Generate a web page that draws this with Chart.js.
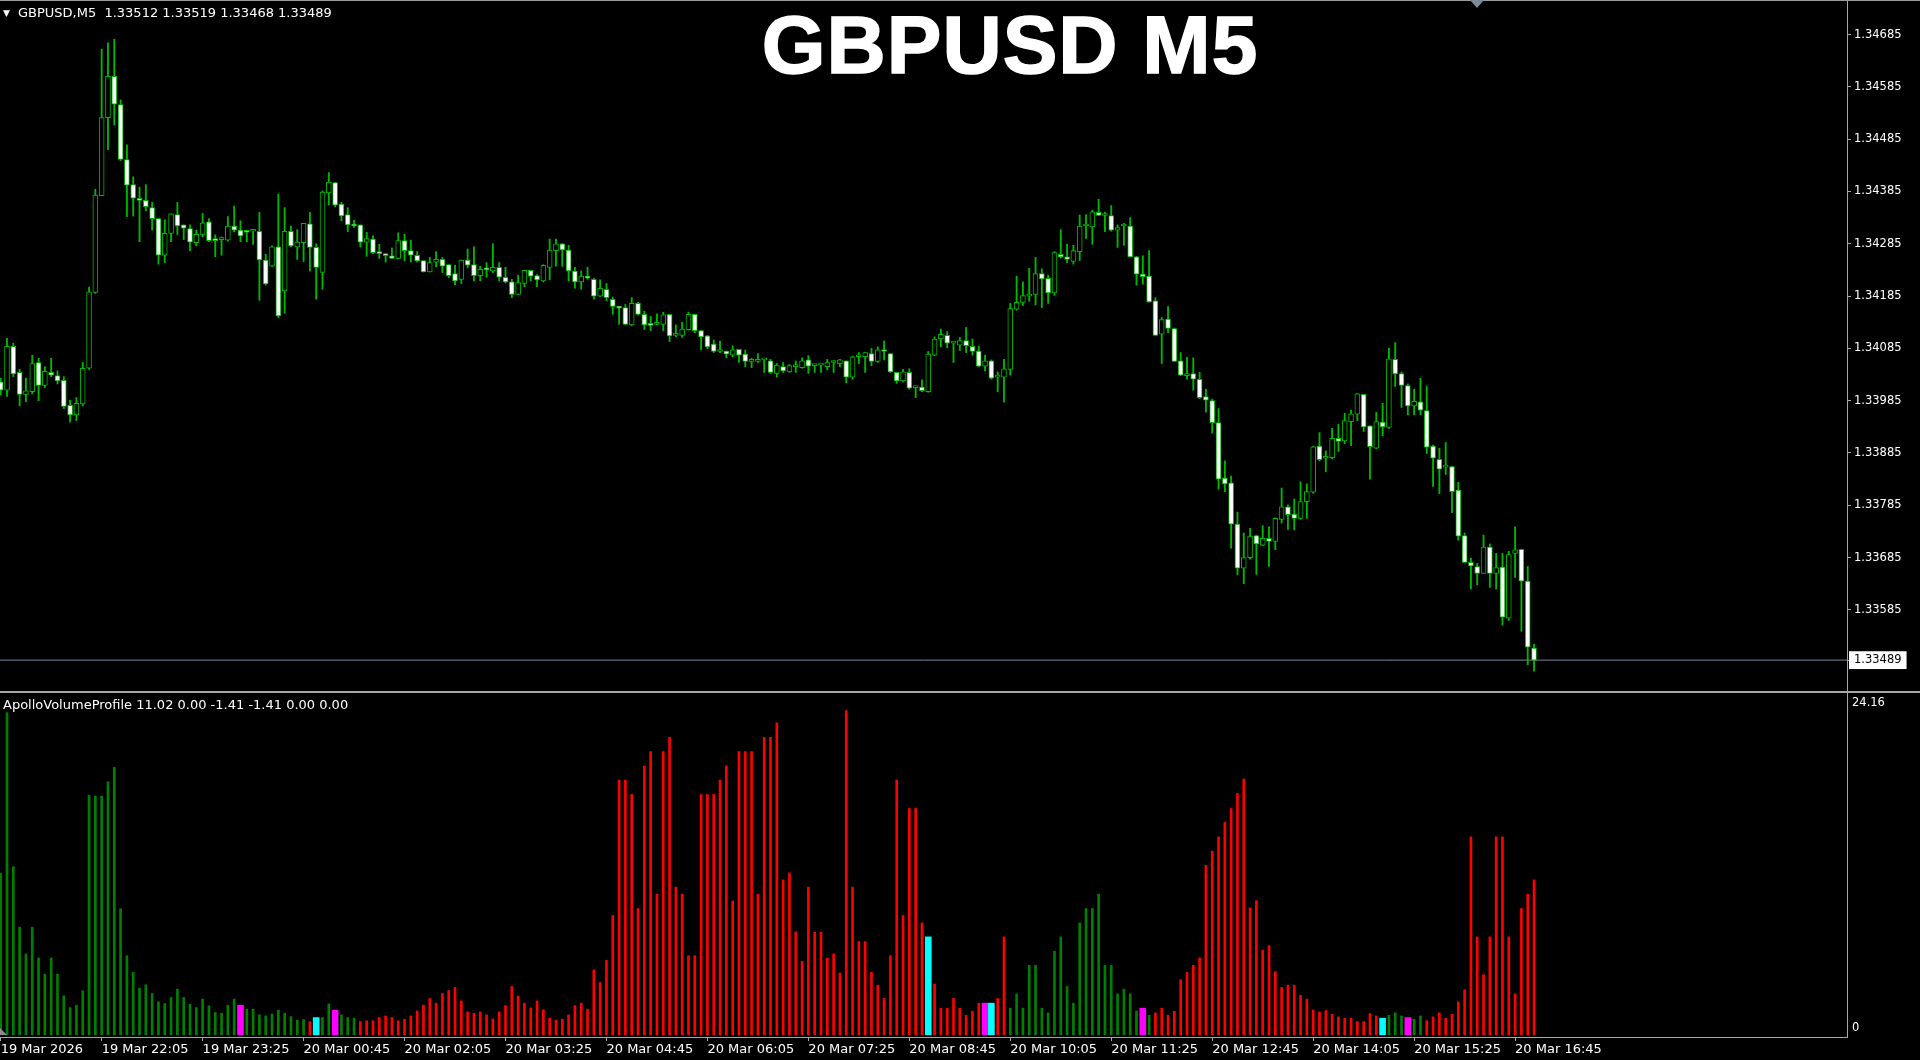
<!DOCTYPE html>
<html lang="en">
<head>
<meta charset="UTF-8">
<title>GBPUSD M5</title>
<script src="https://cdn.jsdelivr.net/npm/chart.js"></script>
<style>
  html, body { margin: 0; padding: 0; background: #000; }
  body { width: 1920px; height: 1060px; position: relative; overflow: hidden; font-family: "DejaVu Sans", sans-serif; }
  #priceBox { position: absolute; left: 0; top: 0; width: 1920px; height: 691px; }
  #volBox { position: absolute; left: 0; top: 693px; width: 1920px; height: 367px; }
  .topline { position: absolute; left: 0; top: 0; width: 1920px; height: 1px; background: #9a9a9a; }
  .sep { position: absolute; left: 0; top: 691px; width: 1920px; height: 2px; background: #a8a8a8; }
  .header { position: absolute; left: 3px; top: 5px; color: #fff; font-size: 13px; white-space: pre; }
  .header .tri { font-size: 9px; position: relative; top: -1px; margin-right: 8px; }
  .volheader { position: absolute; left: 3px; top: 697px; color: #fff; font-size: 13px; white-space: pre; }
  .title { position: absolute; left: 760px; top: 4px; width: 500px; text-align: center; color: #fff;
           font-family: "Liberation Sans", Arial, sans-serif; font-weight: bold; font-size: 82px; line-height: 82px; letter-spacing: 1px;
           -webkit-text-stroke: 1.5px #fff; }
  .shift { position: absolute; left: 1470px; top: 0; width: 0; height: 0;
           border-left: 7px solid transparent; border-right: 7px solid transparent; border-top: 8px solid #7c8a98; }
  .scroll { position: absolute; left: 0; top: 1028px; width: 0; height: 0;
            border-bottom: 7px solid #8c8c8c; border-right: 7px solid transparent; }
</style>
</head>
<body>
<div id="priceBox"><canvas id="priceChart"></canvas></div>
<div id="volBox"><canvas id="volChart"></canvas></div>
<div class="topline"></div>
<div class="sep"></div>
<div class="shift"></div>
<div class="scroll"></div>
<div class="header"><span class="tri">&#9660;</span>GBPUSD,M5  1.33512 1.33519 1.33468 1.33489</div>
<div class="volheader">ApolloVolumeProfile 11.02 0.00 -1.41 -1.41 0.00 0.00</div>
<div class="title">GBPUSD M5</div>

<script>
// M5 candles, 19 Mar 20:45 -> 20 Mar 17:00
const open = [
  1.34021,1.34005,1.34089,1.34039,1.33997,1.34002,1.34058,1.34014,1.34039,1.34033,
  1.34024,1.33976,1.33958,1.33979,1.34047,1.34192,1.34377,1.34526,1.34605,1.34551,
  1.34446,1.34398,1.34372,1.34368,1.34354,1.34333,1.34263,1.34305,1.34341,1.34321,
  1.34314,1.34287,1.34303,1.34327,1.34292,1.34293,1.34292,1.34319,1.34311,1.34308,
  1.34309,1.34309,1.34254,1.34242,1.34279,1.34195,1.34309,1.34279,1.34287,1.34323,
  1.34278,1.34230,1.34382,1.34402,1.34361,1.34341,1.34320,1.34321,1.34288,1.34294,
  1.34267,1.34266,1.34262,1.34257,1.34291,1.34272,1.34263,1.34253,1.34231,1.34250,
  1.34255,1.34245,1.34228,1.34217,1.34254,1.34245,1.34224,1.34236,1.34233,1.34240,
  1.34221,1.34212,1.34188,1.34209,1.34234,1.34224,1.34214,1.34240,1.34272,1.34285,
  1.34273,1.34233,1.34212,1.34223,1.34217,1.34185,1.34198,1.34179,1.34163,1.34163,
  1.34130,1.34171,1.34150,1.34130,1.34131,1.34131,1.34150,1.34110,1.34110,1.34121,
  1.34150,1.34119,1.34109,1.34093,1.34079,1.34080,1.34072,1.34083,1.34074,1.34060,
  1.34060,1.34063,1.34061,1.34037,1.34050,1.34040,1.34050,1.34048,1.34063,1.34052,
  1.34053,1.34050,1.34058,1.34056,1.34061,1.34030,1.34069,1.34069,1.34075,1.34060,
  1.34082,1.34075,1.34039,1.34023,1.34039,1.34010,1.34011,1.34002,1.34072,1.34103,
  1.34110,1.34095,1.34091,1.34100,1.34089,1.34080,1.34051,1.34061,1.34030,1.34030,
  1.34045,1.34160,1.34173,1.34185,1.34188,1.34228,1.34219,1.34191,1.34265,1.34260,
  1.34251,1.34270,1.34319,1.34317,1.34345,1.34339,1.34339,1.34311,1.34319,1.34319,
  1.34260,1.34227,1.34223,1.34176,1.34112,1.34141,1.34123,1.34061,1.34033,1.34037,
  1.34026,1.33993,1.33985,1.33943,1.33837,1.33828,1.33749,1.33665,1.33685,1.33727,
  1.33709,1.33722,1.33716,1.33758,1.33782,1.33768,1.33760,1.33792,1.33810,1.33898,
  1.33875,1.33876,1.33913,1.33908,1.33945,1.33959,1.33997,1.33937,1.33894,1.33944,
  1.33934,1.34064,1.34037,1.34014,1.33975,1.33983,1.33966,1.33898,1.33873,1.33858,
  1.33859,1.33814,1.33727,1.33676,1.33668,1.33655,1.33705,1.33655,1.33667,1.33569,
  1.33693,1.33701,1.33640,1.33512
];
const high = [
  1.34028,1.34104,1.34095,1.34045,1.34028,1.34072,1.34066,1.34050,1.34066,1.34042,
  1.34031,1.33986,1.33991,1.34058,1.34202,1.34389,1.34657,1.34669,1.34676,1.34560,
  1.34474,1.34413,1.34393,1.34398,1.34364,1.34333,1.34331,1.34342,1.34364,1.34321,
  1.34321,1.34311,1.34343,1.34333,1.34302,1.34298,1.34337,1.34357,1.34329,1.34309,
  1.34310,1.34345,1.34265,1.34281,1.34380,1.34354,1.34319,1.34312,1.34324,1.34345,
  1.34285,1.34386,1.34421,1.34402,1.34364,1.34354,1.34330,1.34321,1.34307,1.34300,
  1.34284,1.34266,1.34277,1.34306,1.34303,1.34292,1.34270,1.34253,1.34259,1.34270,
  1.34259,1.34245,1.34244,1.34254,1.34275,1.34279,1.34242,1.34249,1.34285,1.34249,
  1.34240,1.34217,1.34225,1.34234,1.34234,1.34226,1.34245,1.34294,1.34294,1.34285,
  1.34282,1.34240,1.34233,1.34240,1.34219,1.34216,1.34209,1.34183,1.34165,1.34169,
  1.34182,1.34173,1.34156,1.34146,1.34151,1.34154,1.34150,1.34130,1.34135,1.34154,
  1.34150,1.34119,1.34110,1.34101,1.34099,1.34080,1.34090,1.34083,1.34082,1.34066,
  1.34075,1.34064,1.34064,1.34056,1.34058,1.34054,1.34061,1.34067,1.34071,1.34054,
  1.34053,1.34064,1.34061,1.34064,1.34061,1.34070,1.34077,1.34077,1.34085,1.34088,
  1.34099,1.34075,1.34039,1.34045,1.34046,1.34012,1.34025,1.34079,1.34107,1.34122,
  1.34117,1.34098,1.34106,1.34125,1.34103,1.34089,1.34072,1.34063,1.34040,1.34064,
  1.34171,1.34223,1.34212,1.34238,1.34259,1.34237,1.34225,1.34270,1.34312,1.34284,
  1.34282,1.34340,1.34341,1.34349,1.34370,1.34345,1.34358,1.34321,1.34324,1.34335,
  1.34261,1.34262,1.34272,1.34182,1.34144,1.34165,1.34124,1.34077,1.34068,1.34067,
  1.34039,1.34007,1.33988,1.33970,1.33870,1.33841,1.33772,1.33732,1.33741,1.33728,
  1.33746,1.33744,1.33761,1.33818,1.33786,1.33797,1.33830,1.33826,1.33898,1.33924,
  1.33889,1.33932,1.33940,1.33961,1.33967,1.33999,1.33997,1.33937,1.33963,1.33980,
  1.34085,1.34096,1.34040,1.34017,1.34007,1.34028,1.34013,1.33900,1.33894,1.33905,
  1.33859,1.33829,1.33732,1.33684,1.33674,1.33728,1.33711,1.33693,1.33693,1.33697,
  1.33744,1.33701,1.33668,1.33519
];
const low = [
  1.33996,1.33993,1.34031,1.33975,1.33983,1.33998,1.33985,1.34010,1.34031,1.34017,
  1.33970,1.33944,1.33947,1.33975,1.34045,1.34190,1.34377,1.34465,1.34512,1.34444,
  1.34337,1.34338,1.34289,1.34348,1.34311,1.34246,1.34249,1.34289,1.34303,1.34293,
  1.34272,1.34281,1.34298,1.34289,1.34260,1.34263,1.34290,1.34308,1.34289,1.34289,
  1.34284,1.34177,1.34206,1.34241,1.34144,1.34152,1.34279,1.34255,1.34251,1.34233,
  1.34179,1.34198,1.34359,1.34356,1.34329,1.34308,1.34316,1.34279,1.34261,1.34266,
  1.34257,1.34250,1.34257,1.34256,1.34252,1.34250,1.34250,1.34231,1.34231,1.34241,
  1.34230,1.34220,1.34207,1.34209,1.34239,1.34214,1.34214,1.34221,1.34230,1.34214,
  1.34210,1.34182,1.34188,1.34203,1.34214,1.34203,1.34212,1.34216,1.34242,1.34242,
  1.34214,1.34200,1.34198,1.34217,1.34179,1.34184,1.34176,1.34150,1.34131,1.34131,
  1.34128,1.34149,1.34121,1.34119,1.34130,1.34119,1.34098,1.34107,1.34106,1.34120,
  1.34115,1.34082,1.34084,1.34077,1.34077,1.34067,1.34069,1.34058,1.34050,1.34048,
  1.34058,1.34039,1.34037,1.34030,1.34039,1.34039,1.34039,1.34047,1.34037,1.34039,
  1.34039,1.34044,1.34039,1.34050,1.34019,1.34026,1.34056,1.34039,1.34052,1.34058,
  1.34063,1.34039,1.34018,1.34021,1.34007,1.33991,1.34002,1.34001,1.34071,1.34088,
  1.34086,1.34058,1.34081,1.34077,1.34072,1.34050,1.34042,1.34026,1.34002,1.33982,
  1.34034,1.34158,1.34167,1.34175,1.34168,1.34163,1.34171,1.34186,1.34258,1.34249,
  1.34246,1.34253,1.34295,1.34284,1.34339,1.34308,1.34309,1.34278,1.34282,1.34260,
  1.34206,1.34208,1.34173,1.34109,1.34056,1.34115,1.34060,1.34033,1.34026,1.34005,
  1.33989,1.33963,1.33923,1.33816,1.33811,1.33703,1.33652,1.33635,1.33682,1.33653,
  1.33708,1.33668,1.33700,1.33751,1.33739,1.33738,1.33758,1.33760,1.33808,1.33870,
  1.33849,1.33874,1.33888,1.33903,1.33899,1.33947,1.33926,1.33835,1.33893,1.33918,
  1.33932,1.34012,1.33972,1.33958,1.33958,1.33958,1.33884,1.33821,1.33807,1.33844,
  1.33771,1.33718,1.33676,1.33625,1.33633,1.33655,1.33628,1.33625,1.33556,1.33565,
  1.33647,1.33544,1.33480,1.33468
];
const close = [
  1.34005,1.34089,1.34036,1.33997,1.34004,1.34056,1.34014,1.34041,1.34034,1.34023,
  1.33974,1.33958,1.33980,1.34047,1.34193,1.34378,1.34526,1.34605,1.34552,1.34446,
  1.34397,1.34372,1.34368,1.34356,1.34333,1.34263,1.34305,1.34342,1.34319,1.34315,
  1.34288,1.34303,1.34325,1.34291,1.34291,1.34294,1.34319,1.34311,1.34300,1.34307,
  1.34309,1.34254,1.34208,1.34279,1.34147,1.34309,1.34281,1.34288,1.34324,1.34278,
  1.34240,1.34384,1.34403,1.34359,1.34338,1.34321,1.34319,1.34288,1.34295,1.34268,
  1.34266,1.34262,1.34257,1.34291,1.34272,1.34263,1.34252,1.34231,1.34249,1.34255,
  1.34242,1.34224,1.34214,1.34254,1.34244,1.34224,1.34236,1.34235,1.34240,1.34221,
  1.34212,1.34188,1.34211,1.34234,1.34223,1.34216,1.34244,1.34273,1.34285,1.34273,
  1.34233,1.34212,1.34223,1.34219,1.34185,1.34200,1.34182,1.34165,1.34162,1.34131,
  1.34171,1.34150,1.34130,1.34129,1.34131,1.34149,1.34109,1.34110,1.34122,1.34150,
  1.34119,1.34107,1.34088,1.34079,1.34079,1.34074,1.34082,1.34072,1.34060,1.34060,
  1.34064,1.34063,1.34039,1.34053,1.34042,1.34052,1.34050,1.34061,1.34051,1.34052,
  1.34053,1.34058,1.34058,1.34063,1.34030,1.34069,1.34069,1.34077,1.34060,1.34082,
  1.34079,1.34040,1.34023,1.34040,1.34009,1.34010,1.34004,1.34074,1.34103,1.34112,
  1.34095,1.34095,1.34100,1.34090,1.34079,1.34051,1.34061,1.34028,1.34030,1.34046,
  1.34161,1.34173,1.34186,1.34189,1.34228,1.34218,1.34191,1.34268,1.34260,1.34255,
  1.34272,1.34319,1.34319,1.34346,1.34339,1.34339,1.34311,1.34316,1.34319,1.34260,
  1.34227,1.34222,1.34174,1.34110,1.34140,1.34123,1.34060,1.34034,1.34037,1.34026,
  1.33991,1.33986,1.33943,1.33835,1.33826,1.33749,1.33665,1.33685,1.33726,1.33711,
  1.33722,1.33716,1.33760,1.33782,1.33767,1.33760,1.33792,1.33811,1.33897,1.33872,
  1.33875,1.33913,1.33907,1.33947,1.33960,1.33998,1.33935,1.33897,1.33945,1.33935,
  1.34065,1.34036,1.34014,1.33975,1.33984,1.33967,1.33896,1.33875,1.33854,1.33858,
  1.33811,1.33726,1.33676,1.33669,1.33655,1.33705,1.33655,1.33666,1.33571,1.33691,
  1.33700,1.33640,1.33514,1.33489
];

// ApolloVolumeProfile histogram
const volume = [
  12.04,24.0,12.54,8.04,6.05,8.04,5.75,4.55,5.75,4.55,
  2.93,2.06,2.24,3.31,17.86,17.79,17.79,18.86,19.93,9.41,
  5.92,4.68,3.51,3.76,3.11,2.49,2.36,2.81,3.43,2.81,
  2.31,2.06,2.69,2.19,1.69,1.64,2.24,2.69,2.24,1.94,
  1.94,1.52,1.44,1.59,1.87,1.64,1.39,1.12,1.17,1.02,
  1.32,1.32,2.34,1.86,1.52,1.32,1.27,1.02,1.07,1.09,
  1.32,1.44,1.32,1.09,1.19,1.44,1.81,2.24,2.74,2.39,
  3.11,3.33,3.56,2.56,1.74,1.64,1.74,1.52,1.22,1.74,
  2.21,3.63,2.93,2.39,2.04,2.56,1.89,1.27,1.12,1.19,
  1.52,2.21,2.39,1.94,4.86,3.93,5.57,8.91,18.99,18.99,
  17.91,9.43,20.03,21.10,10.50,21.10,22.17,11.02,10.50,5.92,
  5.92,17.91,17.91,17.91,18.99,20.03,9.98,21.10,21.10,21.10,
  10.50,22.17,22.17,23.24,11.56,12.08,7.69,5.50,11.02,7.66,
  7.66,5.75,6.05,4.63,24.16,11.02,6.97,6.97,4.68,3.73,
  2.74,5.92,18.99,8.91,16.87,16.87,8.36,7.32,3.81,2.02,
  2.02,2.74,2.02,1.49,1.79,2.39,2.39,2.39,2.74,7.32,
  2.02,3.08,2.02,5.20,5.20,2.02,1.67,6.25,7.32,3.63,
  2.39,8.36,9.43,9.43,10.50,5.20,5.20,3.08,3.43,3.08,
  1.81,2.02,1.49,1.67,2.02,1.49,1.79,4.13,4.68,5.20,
  5.75,12.64,13.69,14.76,15.83,16.87,17.99,19.06,9.48,10.02,
  6.32,6.67,4.73,3.56,3.73,3.73,2.98,2.69,1.89,1.74,
  1.84,1.57,1.37,1.27,1.27,1.02,1.02,1.62,1.44,1.27,
  1.49,1.67,1.44,1.32,1.19,1.44,1.09,1.37,1.67,1.27,
  1.57,2.49,3.38,14.76,7.32,4.51,7.32,14.76,14.76,7.32,
  3.08,9.43,10.50,11.56
];
// g = green, r = red, m = magenta, c = cyan (20 bars per row)
const volumeType = (
  'gggggggggggggggggggg' +
  'ggggggggggggggggggmg' +
  'gggggggggrcggmgggrrr' +
  'rrrrrrrrrrrrrrrrrrrr' +
  'rrrrrrrrrrrrrrrrrrrr' +
  'rrrrrrrrrrrrrrrrrrrr' +
  'rrrrrrrrrrrrrrrrrrrr' +
  'rrrrrrrcrrrrrrrrmcrr' +
  'gggggggggggggggggggg' +
  'gmgrrrrrrrrrrrrrrrrr' +
  'rrrrrrrrrrrrrrrrrrrc' +
  'gggmggrrrrrrrrrrrrrr' +
  'rrrr'
).split('');

const priceTicks = [1.33585, 1.33685, 1.33785, 1.33885, 1.33985, 1.34085,
                    1.34185, 1.34285, 1.34385, 1.34485, 1.34585, 1.34685];
const lastPrice = 1.33489;
const volumeTicks = [0, 24.16];
const timeLabels = ['19 Mar 2026', '19 Mar 22:05', '19 Mar 23:25', '20 Mar 00:45', '20 Mar 02:05',
                    '20 Mar 03:25', '20 Mar 04:45', '20 Mar 06:05', '20 Mar 07:25', '20 Mar 08:45',
                    '20 Mar 10:05', '20 Mar 11:25', '20 Mar 12:45', '20 Mar 14:05', '20 Mar 15:25',
                    '20 Mar 16:45'];
const timeTickBars = timeLabels.map((t, k) => k * 16);

const candleGreen = '#00b800';
const axisGray = '#a8a8a8';
const volColors = { g: '#008000', r: '#ff0000', m: '#ff00ff', c: '#00ffff' };

// bar index -> pixel: same range on both panels
const xMin = -0.11, xMax = 292.6;

Chart.defaults.font.family = '"DejaVu Sans", sans-serif';
Chart.defaults.color = '#ffffff';

function fixWidth(scale) {
  scale.width = 73;
  scale.paddingTop = 0;
  scale.paddingBottom = 0;
}

new Chart(document.getElementById('priceChart'), {
  type: 'bar',
  data: {
    datasets: [
      {
        label: 'last',
        type: 'line',
        data: [{ x: xMin, y: lastPrice }, { x: xMax, y: lastPrice }],
        borderColor: '#778899',
        borderWidth: 1,
        pointRadius: 0,
        order: 3
      },
      {
        label: 'body',
        data: open.map((o, i) => ({ x: i, y: [Math.min(o, close[i]), Math.max(o, close[i])] })),
        backgroundColor: open.map((o, i) => close[i] < o ? '#ffffff' : '#000000'),
        borderColor: candleGreen,
        borderWidth: 1,
        borderSkipped: false,
        barPercentage: 1,
        categoryPercentage: 1,
        maxBarThickness: 5,
        minBarLength: 2,
        grouped: false,
        order: 1
      },
      {
        label: 'wick',
        data: low.map((l, i) => ({ x: i, y: [l, high[i]] })),
        backgroundColor: candleGreen,
        barPercentage: 1,
        categoryPercentage: 1,
        maxBarThickness: 1.2,
        grouped: false,
        order: 2
      }
    ]
  },
  options: {
    responsive: true,
    maintainAspectRatio: false,
    animation: false,
    layout: { padding: 0 },
    plugins: { legend: { display: false }, tooltip: { enabled: false } },
    scales: {
      x: { type: 'linear', min: xMin, max: xMax, offset: false, display: false },
      y: {
        position: 'right',
        min: 1.33430,
        max: 1.34751,
        afterFit: fixWidth,
        afterBuildTicks: (scale) => {
          scale.ticks = priceTicks.concat([lastPrice]).map(v => ({ value: v }));
        },
        grid: { drawOnChartArea: false, color: axisGray, tickLength: 4 },
        border: { color: axisGray },
        ticks: {
          autoSkip: false,
          padding: 3,
          font: { size: 11.5 },
          color: (c) => c.tick && c.tick.value === lastPrice ? '#000000' : '#ffffff',
          showLabelBackdrop: (c) => !!(c.tick && c.tick.value === lastPrice),
          backdropColor: '#ffffff',
          backdropPadding: { top: 2, bottom: 2, left: 5, right: 5 },
          callback: (v) => Number(v).toFixed(5)
        }
      }
    }
  }
});

new Chart(document.getElementById('volChart'), {
  type: 'bar',
  data: {
    datasets: [
      {
        label: 'wide',
        data: volume.map((v, i) => ({ x: i, y: (volumeType[i] === 'm' || volumeType[i] === 'c') ? v : null })),
        backgroundColor: volumeType.map(t => volColors[t]),
        barPercentage: 1,
        categoryPercentage: 1,
        maxBarThickness: 6,
        grouped: false
      },
      {
        label: 'thin',
        data: volume.map((v, i) => ({ x: i, y: (volumeType[i] === 'g' || volumeType[i] === 'r') ? v : null })),
        backgroundColor: volumeType.map(t => volColors[t]),
        barPercentage: 1,
        categoryPercentage: 1,
        maxBarThickness: 2,
        grouped: false
      }
    ]
  },
  options: {
    responsive: true,
    maintainAspectRatio: false,
    animation: false,
    layout: { padding: 0 },
    plugins: { legend: { display: false }, tooltip: { enabled: false } },
    scales: {
      x: {
        type: 'linear',
        min: xMin,
        max: xMax,
        offset: false,
        afterFit: (scale) => { scale.height = 23; scale.paddingLeft = 0; scale.paddingRight = 0; },
        afterBuildTicks: (scale) => {
          scale.ticks = timeTickBars.map(v => ({ value: v }));
        },
        grid: { drawOnChartArea: false, offset: false, color: axisGray, tickLength: 4 },
        border: { color: axisGray },
        ticks: {
          autoSkip: false,
          maxRotation: 0,
          minRotation: 0,
          align: 'start',
          padding: 1,
          font: { size: 13 },
          callback: (v) => timeLabels[timeTickBars.indexOf(v)]
        }
      },
      y: {
        position: 'right',
        min: -0.126,
        max: 25.46,
        afterFit: fixWidth,
        afterBuildTicks: (scale) => {
          scale.ticks = volumeTicks.map(v => ({ value: v }));
        },
        grid: { drawOnChartArea: false, drawTicks: false },
        border: { color: axisGray },
        ticks: {
          autoSkip: false,
          padding: 5,
          labelOffset: -7,
          font: { size: 11.5 },
          callback: (v) => v === 0 ? '0' : Number(v).toFixed(2)
        }
      }
    }
  }
});
</script>
</body>
</html>
